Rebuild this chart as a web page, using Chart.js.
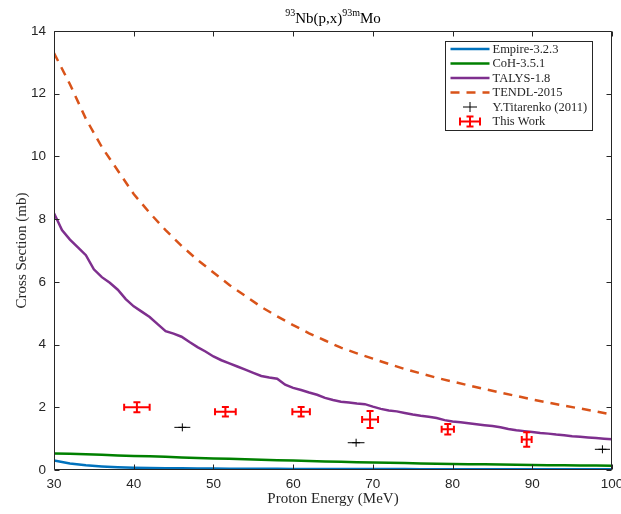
<!DOCTYPE html>
<html>
<head>
<meta charset="utf-8">
<script src="https://cdn.jsdelivr.net/npm/chart.js@4.4.1/dist/chart.umd.min.js"></script>
<style>
  html, body { margin: 0; padding: 0; background: #fff; }
  #wrap { width: 621px; height: 514px; }
</style>
</head>
<body>
<div id="wrap"><canvas id="xsChart"></canvas></div>
<script>
// model calculations, 2 MeV grid
const energy = [30, 32, 34, 36, 38, 40, 42, 44, 46, 48, 50, 52, 54, 56, 58, 60, 62, 64,
  66, 68, 70, 72, 74, 76, 78, 80, 82, 84, 86, 88, 90, 92, 94, 96, 98, 100];
const empire = [0.30, 0.21, 0.15, 0.115, 0.09, 0.075, 0.065, 0.058, 0.052, 0.048, 0.045, 0.042,
  0.04, 0.038, 0.036, 0.035, 0.034, 0.033, 0.032, 0.031, 0.03, 0.029, 0.028, 0.027,
  0.026, 0.025, 0.025, 0.024, 0.023, 0.023, 0.022, 0.022, 0.021, 0.021, 0.02, 0.02];
const coh = [0.53, 0.515, 0.5, 0.485, 0.465, 0.45, 0.435, 0.42, 0.4, 0.385, 0.37, 0.355,
  0.34, 0.325, 0.31, 0.3, 0.29, 0.275, 0.265, 0.25, 0.24, 0.23, 0.22, 0.21,
  0.2, 0.19, 0.185, 0.18, 0.175, 0.165, 0.16, 0.155, 0.15, 0.145, 0.14, 0.135];
const tendl = [13.3, 12.3, 11.2, 10.3, 9.55, 8.8, 8.2, 7.65, 7.15, 6.7, 6.3, 5.9,
  5.55, 5.2, 4.9, 4.62, 4.36, 4.13, 3.9, 3.72, 3.55, 3.38, 3.22, 3.08,
  2.94, 2.82, 2.7, 2.58, 2.47, 2.36, 2.25, 2.15, 2.05, 1.96, 1.87, 1.77];

// TALYS on a 1 MeV grid
const talysE = [30, 31, 32, 33, 34, 35, 36, 37, 38, 39, 40, 41, 42, 43, 44, 45, 46, 47, 48, 49,
  50, 51, 52, 53, 54, 55, 56, 57, 58, 59, 60, 61, 62, 63, 64, 65, 66, 67, 68, 69,
  70, 71, 72, 73, 74, 75, 76, 77, 78, 79, 80, 81, 82, 83, 84, 85, 86, 87, 88, 89,
  90, 91, 92, 93, 94, 95, 96, 97, 98, 99, 100];
const talys = [8.19, 7.65, 7.35, 7.1, 6.85, 6.4, 6.15, 5.97, 5.75, 5.45, 5.22, 5.05, 4.88, 4.65, 4.43, 4.35, 4.25, 4.08, 3.92, 3.78,
  3.62, 3.5, 3.4, 3.3, 3.2, 3.1, 3.0, 2.95, 2.91, 2.72, 2.62, 2.55, 2.47, 2.4, 2.3, 2.23, 2.18, 2.15, 2.12, 2.1,
  2.02, 1.95, 1.9, 1.87, 1.82, 1.77, 1.73, 1.7, 1.66, 1.59, 1.55, 1.52, 1.49, 1.46, 1.43, 1.4, 1.36, 1.31, 1.27, 1.24,
  1.21, 1.18, 1.16, 1.13, 1.11, 1.08, 1.06, 1.04, 1.02, 1.0, 0.98];

// measurements
const workE = [40.4, 51.5, 61.0, 69.65, 79.4, 89.3];
const workXs = [2.0, 1.86, 1.86, 1.61, 1.30, 0.97];
const workEErr = [1.6, 1.3, 1.1, 1.0, 0.77, 0.62];
const workXsErr = [0.16, 0.15, 0.15, 0.27, 0.17, 0.23];

const titE = [46.1, 67.9, 98.8];
const titXs = [1.36, 0.87, 0.66];
const titEErr = [1.0, 1.05, 0.95];

const axisColor = "#262626";
const serif = "'Liberation Serif', 'Times New Roman', serif";
const sans = "'Liberation Sans', Arial, sans-serif";

const toXY = (xs, ys) => xs.map((x, i) => ({ x: x, y: ys[i] }));

// error bars for the two measured sets
const errorBars = {
  id: "errorBars",
  afterDatasetsDraw(chart) {
    const ctx = chart.ctx;
    const a = chart.chartArea;
    const xs = chart.scales.x, ys = chart.scales.y;
    ctx.save();
    ctx.beginPath();
    ctx.rect(a.left, a.top, a.right - a.left, a.bottom - a.top);
    ctx.clip();

    // Titarenko: horizontal bars only
    ctx.strokeStyle = "#000";
    ctx.lineWidth = 1;
    titE.forEach((e, i) => {
      const y = ys.getPixelForValue(titXs[i]);
      ctx.beginPath();
      ctx.moveTo(xs.getPixelForValue(e - titEErr[i]), y);
      ctx.lineTo(xs.getPixelForValue(e + titEErr[i]), y);
      ctx.stroke();
    });

    // this work: bars in both directions with caps
    ctx.strokeStyle = "#ff0000";
    ctx.lineWidth = 2;
    const cap = 3.5;
    workE.forEach((e, i) => {
      const x = xs.getPixelForValue(e);
      const y = ys.getPixelForValue(workXs[i]);
      const x0 = xs.getPixelForValue(e - workEErr[i]);
      const x1 = xs.getPixelForValue(e + workEErr[i]);
      const y0 = ys.getPixelForValue(workXs[i] - workXsErr[i]);
      const y1 = ys.getPixelForValue(workXs[i] + workXsErr[i]);
      ctx.beginPath();
      ctx.moveTo(x0, y); ctx.lineTo(x1, y);
      ctx.moveTo(x0, y - cap); ctx.lineTo(x0, y + cap);
      ctx.moveTo(x1, y - cap); ctx.lineTo(x1, y + cap);
      ctx.moveTo(x, y0); ctx.lineTo(x, y1);
      ctx.moveTo(x - cap, y0); ctx.lineTo(x + cap, y0);
      ctx.moveTo(x - cap, y1); ctx.lineTo(x + cap, y1);
      ctx.stroke();
    });
    ctx.restore();
  }
};

// box around the axes with inward ticks, title and legend
const frame = {
  id: "frame",
  afterDraw(chart) {
    const ctx = chart.ctx;
    const a = chart.chartArea;
    const xs = chart.scales.x, ys = chart.scales.y;
    const L = Math.round(a.left) + 0.5, R = Math.round(a.right) - 0.5;
    const T = Math.round(a.top) + 0.5, B = Math.round(a.bottom) - 0.5;
    ctx.save();
    ctx.strokeStyle = axisColor;
    ctx.lineWidth = 1;
    ctx.beginPath();
    ctx.rect(L, T, R - L, B - T);
    ctx.stroke();

    ctx.beginPath();
    xs.ticks.forEach(t => {
      const px = Math.round(xs.getPixelForValue(t.value)) + 0.5;
      ctx.moveTo(px, B); ctx.lineTo(px, B - 5);
      ctx.moveTo(px, T); ctx.lineTo(px, T + 5);
    });
    ys.ticks.forEach(t => {
      const py = Math.round(ys.getPixelForValue(t.value)) + 0.5;
      ctx.moveTo(L, py); ctx.lineTo(L + 5, py);
      ctx.moveTo(R, py); ctx.lineTo(R - 5, py);
    });
    ctx.stroke();

    // title with superscripts
    const parts = [
      { t: "93", sup: true }, { t: "Nb(p,x)", sup: false },
      { t: "93m", sup: true }, { t: "Mo", sup: false }
    ];
    const big = "15px " + serif, small = "10px " + serif;
    let w = 0;
    parts.forEach(p => { ctx.font = p.sup ? small : big; w += ctx.measureText(p.t).width; });
    let tx = (a.left + a.right) / 2 - w / 2;
    ctx.fillStyle = "#000";
    ctx.textBaseline = "alphabetic";
    ctx.textAlign = "left";
    parts.forEach(p => {
      ctx.font = p.sup ? small : big;
      ctx.fillText(p.t, tx, p.sup ? 16 : 23);
      tx += ctx.measureText(p.t).width;
    });

    // legend box
    const bx = a.right - 166.5, by = a.top + 10.5, bw = 147, bh = 89;
    ctx.fillStyle = "#fff";
    ctx.fillRect(bx, by, bw, bh);
    ctx.strokeStyle = axisColor;
    ctx.lineWidth = 1;
    ctx.strokeRect(bx, by, bw, bh);
    ctx.font = "12.5px " + serif;
    ctx.textBaseline = "middle";
    const sx0 = bx + 5, sx1 = bx + 44, sc = (sx0 + sx1) / 2;
    chart.data.datasets.forEach((ds, i) => {
      const ry = by + 7.5 + i * 14.5;
      ctx.save();
      if (ds.showLine !== false) {
        ctx.strokeStyle = ds.borderColor;
        ctx.lineWidth = ds.borderWidth;
        ctx.setLineDash(ds.borderDash || []);
        ctx.beginPath();
        ctx.moveTo(sx0, ry); ctx.lineTo(sx1, ry);
        ctx.stroke();
      } else if (ds.pointStyle === "cross") {
        ctx.strokeStyle = "#000";
        ctx.lineWidth = 1;
        ctx.beginPath();
        ctx.moveTo(sc - 7, ry); ctx.lineTo(sc + 7, ry);
        ctx.moveTo(sc, ry - 5); ctx.lineTo(sc, ry + 5);
        ctx.stroke();
      } else {
        ctx.strokeStyle = "#ff0000";
        ctx.lineWidth = 2;
        ctx.beginPath();
        ctx.moveTo(sc - 10, ry); ctx.lineTo(sc + 10, ry);
        ctx.moveTo(sc - 10, ry - 4); ctx.lineTo(sc - 10, ry + 4);
        ctx.moveTo(sc + 10, ry - 4); ctx.lineTo(sc + 10, ry + 4);
        ctx.moveTo(sc, ry - 5); ctx.lineTo(sc, ry + 5);
        ctx.moveTo(sc - 3.5, ry - 5); ctx.lineTo(sc + 3.5, ry - 5);
        ctx.moveTo(sc - 3.5, ry + 5); ctx.lineTo(sc + 3.5, ry + 5);
        ctx.stroke();
      }
      ctx.restore();
      ctx.fillStyle = axisColor;
      ctx.fillText(ds.label, sx1 + 3, ry + 0.5);
    });
    ctx.restore();
  }
};

const config = {
  type: "line",
  data: {
    datasets: [
      { label: "Empire-3.2.3", data: toXY(energy, empire), borderColor: "#0072BD", borderWidth: 2.5, pointRadius: 0 },
      { label: "CoH-3.5.1", data: toXY(energy, coh), borderColor: "#008000", borderWidth: 2.5, pointRadius: 0 },
      { label: "TALYS-1.8", data: toXY(talysE, talys), borderColor: "#7E2F8E", borderWidth: 2.5, pointRadius: 0 },
      { label: "TENDL-2015", data: toXY(energy, tendl), borderColor: "#D95319", borderWidth: 2.5, borderDash: [9, 7], pointRadius: 0 },
      { label: "Y.Titarenko (2011)", data: toXY(titE, titXs), showLine: false, pointStyle: "cross",
        pointRadius: 4, borderColor: "#000", borderWidth: 1 },
      { label: "This Work", data: toXY(workE, workXs), showLine: false, pointRadius: 0, borderColor: "#ff0000" }
    ]
  },
  options: {
    responsive: false,
    animation: false,
    events: [],
    layout: { padding: { left: 0, right: 9, top: 31, bottom: 0 } },
    plugins: { legend: { display: false }, title: { display: false }, tooltip: { enabled: false } },
    scales: {
      x: {
        type: "linear", min: 30, max: 100,
        border: { display: false },
        grid: { display: false, drawTicks: false },
        ticks: { stepSize: 10, padding: 6, maxRotation: 0, autoSkip: false, color: axisColor, font: { family: sans, size: 13.5 } },
        title: { display: true, text: "Proton Energy (MeV)", color: axisColor, font: { family: serif, size: 15 }, padding: { top: 0, bottom: 6 } },
        afterFit: (s) => { s.height = 44; s.paddingLeft = 0; s.paddingRight = 0; }
      },
      y: {
        min: 0, max: 14,
        border: { display: false },
        grid: { display: false, drawTicks: false },
        ticks: { stepSize: 2, padding: 8, color: axisColor, font: { family: sans, size: 13.5 } },
        title: { display: true, text: "Cross Section (mb)", color: axisColor, font: { family: serif, size: 15 }, padding: { top: 13, bottom: 0 } },
        afterFit: (s) => { s.width = 54; s.paddingTop = 0; s.paddingBottom = 0; }
      }
    }
  },
  plugins: [errorBars, frame]
};

const canvas = document.getElementById("xsChart");
canvas.width = 621;
canvas.height = 514;
new Chart(canvas, config);
</script>
</body>
</html>
